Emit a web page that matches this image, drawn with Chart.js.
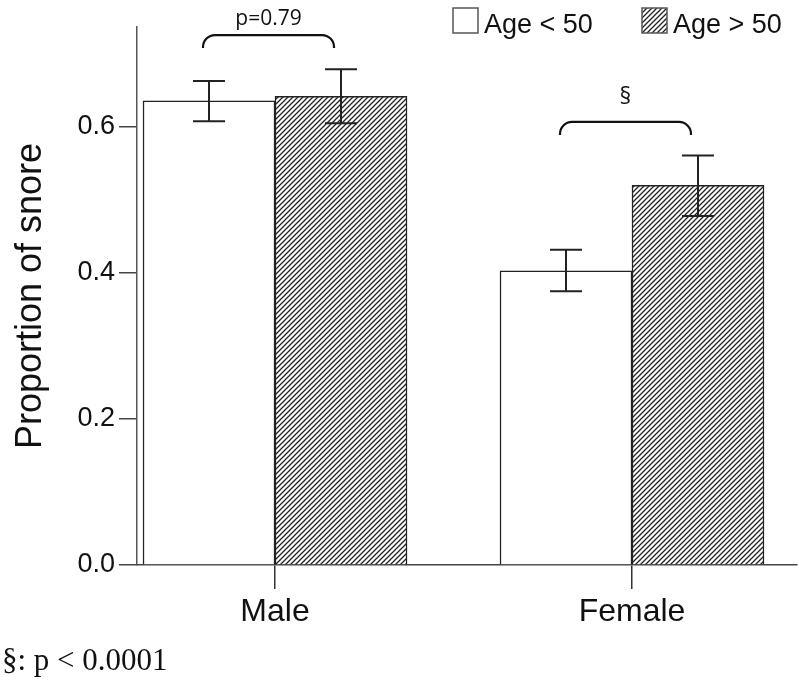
<!DOCTYPE html>
<html>
<head>
<meta charset="utf-8">
<script src="https://cdn.jsdelivr.net/npm/chart.js@4/dist/chart.umd.min.js"></script>
<style>
  body { margin: 0; background: #fff; }
  #wrap { width: 799px; height: 681px; position: relative; }
</style>
</head>
<body>
<div id="wrap"><canvas id="snoreChart"></canvas></div>
<script>
const categories = ['Male', 'Female'];
const seriesLabels = ['Age < 50', 'Age > 50'];
const under50 = [0.636, 0.403];
const over50 = [0.642, 0.520];
const under50Low = [0.608, 0.375];
const under50High = [0.663, 0.432];
const over50Low = [0.605, 0.478];
const over50High = [0.679, 0.561];
const yTicks = [0.0, 0.2, 0.4, 0.6];
const bracketLabels = ['p=0.79', '§'];
const bracketTop = [0.726, 0.607];
const footnote = '§: p < 0.0001';

const ctx = document.getElementById('snoreChart').getContext('2d');

// diagonal hatch for the older group
const tile = document.createElement('canvas');
tile.width = 5; tile.height = 5;
const t = tile.getContext('2d');
t.fillStyle = '#fff';
t.fillRect(0, 0, 5, 5);
t.strokeStyle = '#222';
t.lineWidth = 1.3;
t.beginPath();
t.moveTo(-1, 6); t.lineTo(6, -1);
t.moveTo(-1, 1); t.lineTo(1, -1);
t.moveTo(4, 6); t.lineTo(6, 4);
t.stroke();
const hatch = ctx.createPattern(tile, 'repeat');

const errLow = [under50Low, over50Low];
const errHigh = [under50High, over50High];

const errorBars = {
  id: 'errorBars',
  afterDatasetsDraw(chart) {
    const c = chart.ctx;
    const y = chart.scales.y;
    c.save();
    c.strokeStyle = '#222';
    c.lineWidth = 2;
    chart.data.datasets.forEach((ds, d) => {
      chart.getDatasetMeta(d).data.forEach((bar, i) => {
        const lo = y.getPixelForValue(errLow[d][i]);
        const hi = y.getPixelForValue(errHigh[d][i]);
        c.beginPath();
        c.moveTo(bar.x, lo); c.lineTo(bar.x, hi);
        c.moveTo(bar.x - 16, lo); c.lineTo(bar.x + 16, lo);
        c.moveTo(bar.x - 16, hi); c.lineTo(bar.x + 16, hi);
        c.stroke();
      });
    });
    c.restore();
  }
};

const extras = {
  id: 'extras',
  afterDraw(chart) {
    const c = chart.ctx;
    const y = chart.scales.y;
    const m0 = chart.getDatasetMeta(0).data;
    const m1 = chart.getDatasetMeta(1).data;
    c.save();
    // brackets
    c.strokeStyle = '#111';
    c.lineWidth = 2.2;
    c.fillStyle = '#111';
    c.textAlign = 'center';
    categories.forEach((cat, i) => {
      const l = m0[i].x - 6, r = m1[i].x - 7;
      const top = y.getPixelForValue(bracketTop[i]);
      const drop = 13, rad = 12;
      c.beginPath();
      c.moveTo(l, top + drop);
      c.arcTo(l, top, l + rad, top, rad);
      c.lineTo(r - rad, top);
      c.arcTo(r, top, r, top + drop, rad);
      c.lineTo(r, top + drop);
      c.stroke();
      c.font = i === 0 ? '21px "Open Sans"' : '23px "Open Sans"';
      c.fillText(bracketLabels[i], (l + r) / 2, top - (i === 0 ? 10 : 18));
    });
    // legend
    c.font = '27px "Liberation Sans"';
    c.textAlign = 'left';
    c.textBaseline = 'alphabetic';
    const boxX = [453, 642];
    chart.data.datasets.forEach((ds, d) => {
      c.fillStyle = ds.backgroundColor;
      c.fillRect(boxX[d], 8, 25, 25);
      c.strokeStyle = '#555';
      c.lineWidth = 1.5;
      c.strokeRect(boxX[d], 8, 25, 25);
      c.fillStyle = '#111';
      c.fillText(ds.label, boxX[d] + 31, 33);
    });
    // footnote
    c.font = '31px "Liberation Serif"';
    c.fillText(footnote, 2, 670);
    c.restore();
  }
};

new Chart(ctx, {
  type: 'bar',
  data: {
    datasets: [
      {
        label: seriesLabels[0],
        data: under50.map((v, i) => ({ x: i + 1, y: v })),
        backgroundColor: '#ffffff',
        borderColor: '#222',
        borderWidth: 1.5,
      },
      {
        label: seriesLabels[1],
        data: over50.map((v, i) => ({ x: i + 1, y: v })),
        backgroundColor: hatch,
        borderColor: '#222',
        borderWidth: 1.5,
      },
    ],
  },
  options: {
    responsive: true,
    maintainAspectRatio: false,
    animation: false,
    barThickness: 132,
    layout: { padding: { left: 0, top: 27, right: 2, bottom: 0 } },
    plugins: {
      legend: { display: false },
      tooltip: { enabled: false },
    },
    scales: {
      x: {
        type: 'linear',
        offset: false,
        min: 0.6134,
        max: 2.4622,
        afterBuildTicks: (s) => { s.ticks = categories.map((c, i) => ({ value: i + 1 })); },
        afterFit: (s) => { s.height = 116; },
        ticks: {
          callback: (v) => categories[v - 1],
          font: { family: 'Liberation Sans', size: 32 },
          color: '#111',
          padding: 4,
          autoSkip: false,
          maxRotation: 0,
        },
        grid: { offset: false, drawOnChartArea: false, tickLength: 24, color: '#333', lineWidth: 1.5 },
        border: { display: true, color: '#444', width: 1.5 },
      },
      y: {
        min: 0,
        max: 0.737,
        afterBuildTicks: (s) => { s.ticks = yTicks.map((v) => ({ value: v })); },
        afterFit: (s) => { s.width = 137; },
        ticks: {
          callback: (v) => v.toFixed(1),
          font: { family: 'Liberation Sans', size: 27 },
          color: '#111',
          padding: 4,
        },
        grid: { drawOnChartArea: false, tickLength: 18, color: '#444', lineWidth: 1.5 },
        border: { display: true, color: '#555', width: 1.5 },
        title: {
          display: true,
          text: 'Proportion of snore',
          font: { family: 'Liberation Sans', size: 36 },
          color: '#111',
          padding: { top: 9, bottom: 0 },
        },
      },
    },
  },
  plugins: [errorBars, extras],
});
</script>
</body>
</html>
